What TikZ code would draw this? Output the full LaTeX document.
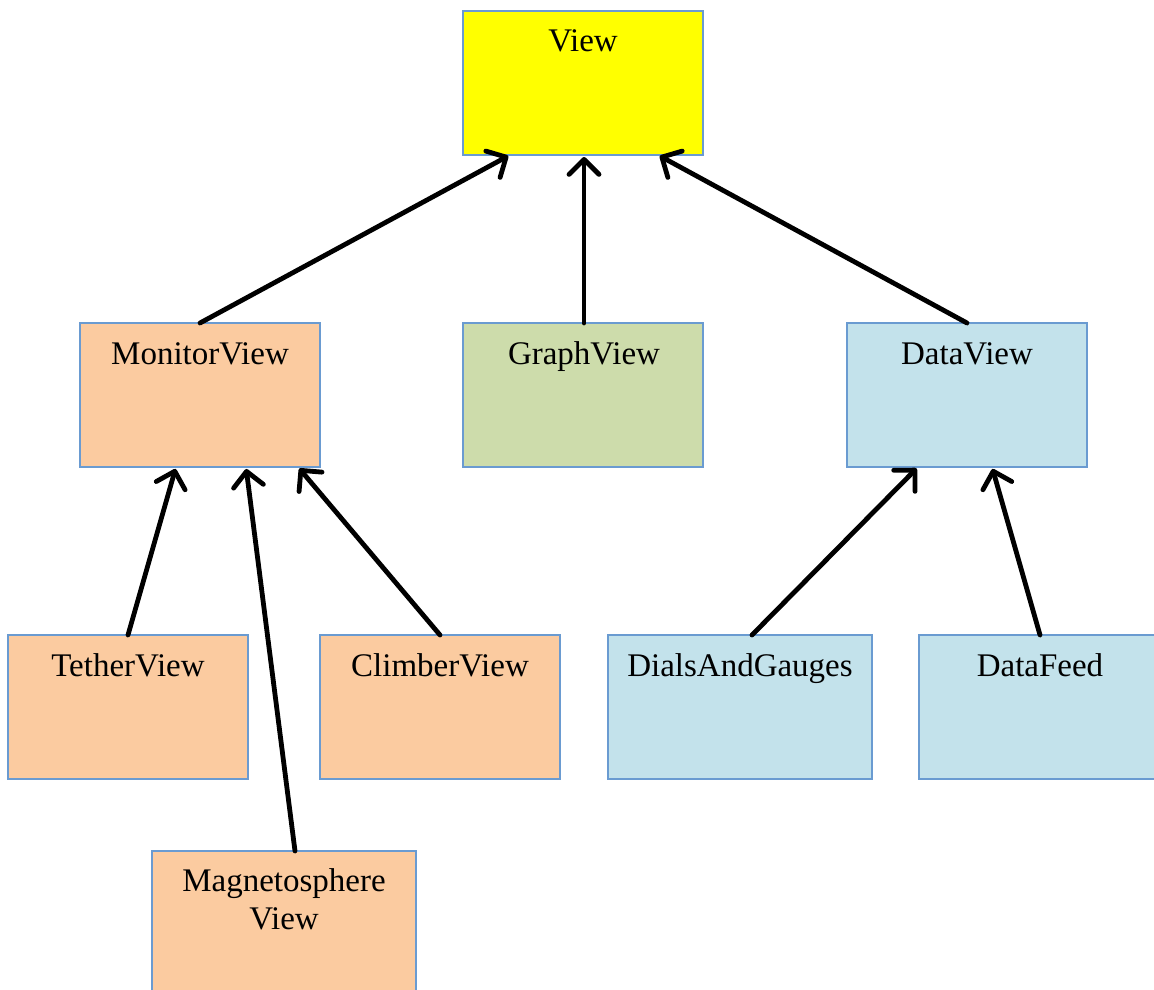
\documentclass[tikz,border=0pt]{standalone}
\usepackage{fontspec}
\setmainfont{Liberation Serif}
\usetikzlibrary{arrows.meta}
\definecolor{bordblue}{HTML}{6A9BD1}
\definecolor{peach}{HTML}{FBCBA0}
\definecolor{sage}{HTML}{CDDCAB}
\definecolor{pale}{HTML}{C3E2EB}
\definecolor{yel}{HTML}{FFFF00}
\tikzset{
  box/.style={draw=bordblue, line width=1.8pt, rectangle, minimum width=240pt, minimum height=144pt, anchor=north west, inner sep=0pt, outer sep=0pt},
  wbox/.style={box, minimum width=264pt},
  lbl/.style={anchor=base, font=\fontsize{33}{38}\selectfont, align=center, inner sep=0pt},
  inh/.style={draw=black, line width=4.8pt, line cap=round, -{Straight Barb[length=15pt,width=30pt,round]}, shorten >=2pt}
}
\begin{document}
\begin{tikzpicture}[x=1pt,y=-1pt]
\useasboundingbox (0,0) rectangle (1154,990);
\clip (0,0) rectangle (1154,990);
\node[box, fill=yel] (view) at (463,11) {};
\node[lbl] (viewT) at (583,52) {View};
\node[box, fill=peach] (monitor) at (80,323) {};
\node[lbl] (monitorT) at (200,364) {MonitorView};
\node[box, fill=sage] (graph) at (463,323) {};
\node[lbl] (graphT) at (584,364) {GraphView};
\node[box, fill=pale] (data) at (847,323) {};
\node[lbl] (dataT) at (967,364) {DataView};
\node[box, fill=peach] (tether) at (8,635) {};
\node[lbl] (tetherT) at (128,676) {TetherView};
\node[box, fill=peach] (climber) at (320,635) {};
\node[lbl] (climberT) at (440,676) {ClimberView};
\node[wbox, fill=pale] (dials) at (608,635) {};
\node[lbl] (dialsT) at (740,676) {DialsAndGauges};
\node[box, fill=pale, minimum width=250pt] (feed) at (919,635) {};
\node[lbl] (feedT) at (1040,676) {DataFeed};
\node[wbox, fill=peach] (magneto) at (152,851) {};
\node[lbl, anchor=north] (magnetoT) at (284,868) {Magnetosphere\\View};
% connectors
\coordinate (a1) at (200,323); \coordinate (b1) at (510,155);
\coordinate (a2) at (584,323); \coordinate (b2) at (584,155);
\coordinate (a3) at (967,323); \coordinate (b3) at (658,155);
\coordinate (a4) at (128,635); \coordinate (b4) at (176,467);
\coordinate (a5) at (295,851); \coordinate (b5) at (246,467);
\coordinate (a6) at (440,635); \coordinate (b6) at (298,467);
\coordinate (a7) at (752,635); \coordinate (b7) at (918,467);
\coordinate (a8) at (1040,635); \coordinate (b8) at (992,467);
\draw[inh] (a1) -- (b1);
\draw[inh] (a2) -- (b2);
\draw[inh] (a3) -- (b3);
\draw[inh] (a4) -- (b4);
\draw[inh] (a5) -- (b5);
\draw[inh] (a6) -- (b6);
\draw[inh] (a7) -- (b7);
\draw[inh] (a8) -- (b8);
\end{tikzpicture}
\end{document}
